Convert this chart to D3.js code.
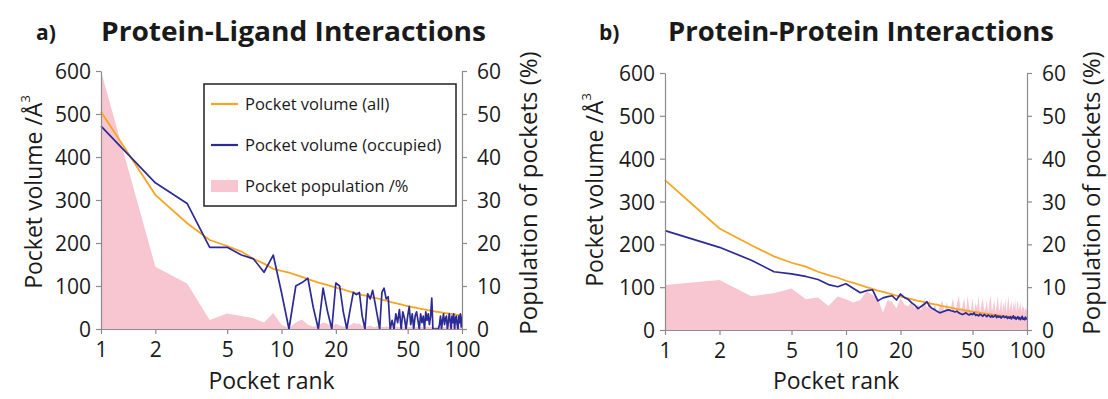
<!DOCTYPE html>
<html><head><meta charset="utf-8">
<script src="https://cdn.jsdelivr.net/npm/d3@7"></script>
<style>
html,body{margin:0;padding:0;background:#fff;}
svg{display:block;font-family:"Open Sans",sans-serif;}
</style></head>
<body><svg id="c" width="1108" height="399"></svg>
<script>
// ---- Data ----
const ranks = [1,2,3,4,5,6,7,8,9,10,11,12,13,14,15,16,17,18,19,20,21,22,23,24,25,26,27,28,29,30,31,32,33,34,35,36,37,38,39,40,41,42,43,44,45,46,47,48,49,50,51,52,53,54,55,56,57,58,59,60,61,62,63,64,65,66,67,68,69,70,71,72,73,74,75,76,77,78,79,80,81,82,83,84,85,86,87,88,89,90,91,92,93,94,95,96,97,98,99,100];
const xTicks = [1,2,5,10,20,50,100];
const yTicksLeft = [0,100,200,300,400,500,600];
const yTicksRight = [0,10,20,30,40,50,60];
const seriesNames = ["Pocket volume (all)","Pocket volume (occupied)","Pocket population /%"];

// Panel a: Protein-Ligand
const plAll = [505,312,246,207,193,180,163,152,140,135,131,126,121,116,112,108,105,102,99,96,
94,92,89,87,85,83,81,79,78,76,75,73,72,71,70,68,67,66,65,63,
62,61,60,59,58,57,56,55,54,53,53,52,51,50,50,49,48,48,47,46,
46,45,45,44,44,43,43,42,42,41,41,40,40,40,39,39,38,38,38,37,
37,37,36,36,36,35,35,35,34,34,34,34,33,33,33,33,32,32,32,32];
const plOcc = [472,340,292,190,190,172,163,132,172,85,0,100,108,118,50,0,95,40,0,107,
100,40,0,45,85,80,85,30,0,82,70,90,60,30,0,85,95,70,75,0,
20,0,35,15,45,0,40,25,0,30,52,10,35,0,30,40,20,0,35,15,
30,0,40,20,35,10,30,72,0,0,0,0,0,0,10,30,0,20,35,10,
25,30,0,15,35,20,0,30,15,35,0,25,30,10,0,30,15,35,5,30];
const plPop = [60,14.5,10.6,2.1,3.6,3.0,2.5,1.5,3.7,1.0,0.2,1.5,2.2,1.0,0.5,0.8,1.5,1.2,0.6,1.2,
0.8,0.6,0.5,0.9,1.4,1.2,1.3,0.7,0.5,0.6,0.8,0.5,0.4,0.7,0.6,0.5,0.4,0.6,0.5,0.4,
0.5,0.4,0.6,0.5,0.4,0.5,0.6,0.4,0.5,0.4,0.5,0.4,0.6,0.5,0.4,0.5,0.4,0.5,0.4,0.5,
0.4,0.5,0.4,0.6,0.5,0.4,0.5,0.4,0.5,0.4,0.5,0.4,0.5,0.6,0.4,0.5,0.4,0.5,0.6,0.5,
0.4,0.5,0.6,0.8,1.0,0.9,0.7,0.8,1.0,0.6,0.5,0.6,0.4,0.5,0.6,0.4,0.5,0.4,0.5,0.4];

// Panel b: Protein-Protein
const ppAll = [350,237,198,172,157,148,136,128,122,115,110,105,100,96,92,89,86,83,80,78,
76,74,72,70,68,67,65,64,62,61,60,59,57,56,55,54,53,52,51,50,
49,48,48,47,46,45,45,44,43,43,42,42,41,41,40,40,39,39,38,38,
37,37,37,36,36,35,35,35,34,34,34,33,33,33,32,32,32,32,31,31,
31,31,30,30,30,30,29,29,29,29,29,28,28,28,28,28,27,27,27,27];
const ppOcc = [232,193,163,136,131,125,118,106,101,108,97,87,92,94,68,75,78,80,70,84,
76,72,64,58,50,55,60,66,55,50,47,43,40,42,44,46,47,45,44,42,
44,40,38,36,38,40,37,35,38,36,40,34,36,33,37,35,32,36,34,31,
35,33,30,34,30,32,35,29,33,30,32,28,31,33,29,30,32,27,30,28,
31,26,29,33,27,30,25,28,31,26,29,24,28,32,25,27,24,30,26,28];
const ppPop = [10.5,11.7,7.9,8.6,9.7,7.2,7.6,5.6,7.8,7.2,6.4,7.0,9.0,8.2,7.5,4.0,7.0,6.5,5.0,7.5,
6.0,5.5,6.5,5.0,6.0,4.5,7.5,5.0,7.0,4.5,6.0,4.0,5.5,7.0,4.0,6.5,4.5,5.0,7.5,4.0,
6.0,8.0,4.5,5.5,7.5,4.0,8.0,5.0,4.5,7.5,4.0,6.5,5.0,8.0,4.0,6.0,7.5,4.5,5.0,7.0,
4.0,6.5,8.0,4.5,5.5,7.0,4.0,6.0,8.0,4.5,5.0,7.5,4.0,6.5,5.0,7.5,4.0,6.0,8.0,4.5,
5.5,7.0,4.0,6.5,5.0,7.5,4.0,6.0,7.0,4.5,5.5,6.5,4.0,6.0,5.0,5.5,4.0,5.5,4.5,5.0];

const titles = [["a)","Protein-Ligand Interactions"],["b)","Protein-Protein Interactions"]];

// ---- Styles ----
const C_ALL = "#f5a623", C_OCC = "#2b2a96", C_POP = "#f7c6d1", C_AX = "#8c8c8c", C_TXT = "#1a1a1a";

const svg = d3.select("#c");

function panel(cfg){
  const g = svg.append("g");
  const x = d3.scaleLog().domain([1,100]).range([cfg.x0, cfg.x1]);
  const y = d3.scaleLinear().domain([0,600]).range([cfg.yb, cfg.yt]);
  const y2 = d3.scaleLinear().domain([0,60]).range([cfg.yb, cfg.yt]);

  g.append("path").datum(ranks)
    .attr("fill", C_POP)
    .attr("d", d3.area().x(r=>x(r)).y0(y2(0)).y1((r,i)=>y2(cfg.pop[i])));

  g.append("path").datum(ranks).attr("fill","none").attr("stroke",C_ALL).attr("stroke-width",1.8)
    .attr("d", d3.line().x(r=>x(r)).y((r,i)=>y(cfg.all[i])));
  g.append("path").datum(ranks).attr("fill","none").attr("stroke",C_OCC).attr("stroke-width",1.7)
    .attr("stroke-linejoin","round")
    .attr("d", d3.line().x(r=>x(r)).y((r,i)=>y(cfg.occ[i])));

  const styleAxis = sel => {
    sel.selectAll(".domain").attr("stroke",C_AX).attr("stroke-width",1.2);
    sel.selectAll(".tick line").attr("stroke",C_AX).attr("stroke-width",1.2);
    sel.selectAll(".tick text").attr("fill",C_TXT).style("font-size","21px").style("font-family","'Open Sans',sans-serif");
  };
  g.append("g").attr("transform",`translate(${cfg.x0},0)`)
    .call(d3.axisLeft(y).tickValues(yTicksLeft).tickSize(5).tickSizeOuter(0).tickPadding(5))
    .call(styleAxis).selectAll(".tick text").attr("dy","0.36em");
  g.append("g").attr("transform",`translate(${cfg.x1},0)`)
    .call(d3.axisRight(y2).tickValues(yTicksRight).tickSize(5).tickSizeOuter(0).tickPadding(10))
    .call(styleAxis).selectAll(".tick text").attr("dy","0.36em");
  g.append("g").attr("transform",`translate(0,${cfg.yb})`)
    .call(d3.axisBottom(x).tickValues(xTicks).tickFormat(d3.format("d")).tickSize(5).tickSizeOuter(0).tickPadding(8))
    .call(styleAxis);

  const lt = g.append("text").attr("transform",`translate(${cfg.ylx},${cfg.ylc}) rotate(-90)`)
    .attr("text-anchor","middle").attr("fill",C_TXT).style("font-size","23px");
  lt.append("tspan").text("Pocket volume /Å");
  lt.append("tspan").text("3").attr("dy","-12").style("font-size","13px");
  g.append("text").attr("transform",`translate(${cfg.yrx},${cfg.yrc}) rotate(-90)`)
    .attr("text-anchor","middle").attr("fill",C_TXT).style("font-size","24px")
    .text("Population of pockets (%)");
  g.append("text").attr("x",(cfg.x0+cfg.x1)/2 - 10).attr("y",389)
    .attr("text-anchor","middle").attr("fill",C_TXT).style("font-size","23px").text("Pocket rank");

  g.append("text").attr("x",cfg.lx).attr("y",40).attr("fill",C_TXT)
    .style("font-size","21px").style("font-weight","bold").text(cfg.title[0]);
  g.append("text").attr("x",cfg.tx).attr("y",41).attr("fill",C_TXT)
    .style("font-size","26px").style("font-weight","bold")
    .attr("textLength",cfg.tw).attr("lengthAdjust","spacingAndGlyphs").text(cfg.title[1]);
}

panel({x0:101,x1:462,yt:71,yb:329,all:plAll,occ:plOcc,pop:plPop,ylx:42,ylc:192,yrx:537,yrc:193,lx:36,tx:101,tw:385,title:titles[0]});
panel({x0:665,x1:1027,yt:73,yb:330,all:ppAll,occ:ppOcc,pop:ppPop,ylx:603,ylc:190,yrx:1100,yrc:193,lx:599,tx:668,tw:386,title:titles[1]});

const lg = svg.append("g");
lg.append("rect").attr("x",204).attr("y",84).attr("width",252).attr("height",122)
  .attr("fill","#fff").attr("stroke","#222").attr("stroke-width",1.5);
const legItems = [
  {name:seriesNames[0], type:"line", color:C_ALL, y:104},
  {name:seriesNames[1], type:"line", color:C_OCC, y:145},
  {name:seriesNames[2], type:"rect", color:C_POP, y:186}
];
legItems.forEach(d=>{
  if(d.type==="line"){
    lg.append("line").attr("x1",211).attr("x2",238).attr("y1",d.y).attr("y2",d.y)
      .attr("stroke",d.color).attr("stroke-width",2.2);
  } else {
    lg.append("rect").attr("x",211).attr("y",d.y-6).attr("width",27).attr("height",12).attr("fill",d.color);
  }
  lg.append("text").attr("x",245).attr("y",d.y).attr("dy","0.35em").attr("fill",C_TXT)
    .style("font-size","16.5px").text(d.name);
});
</script></body></html>
